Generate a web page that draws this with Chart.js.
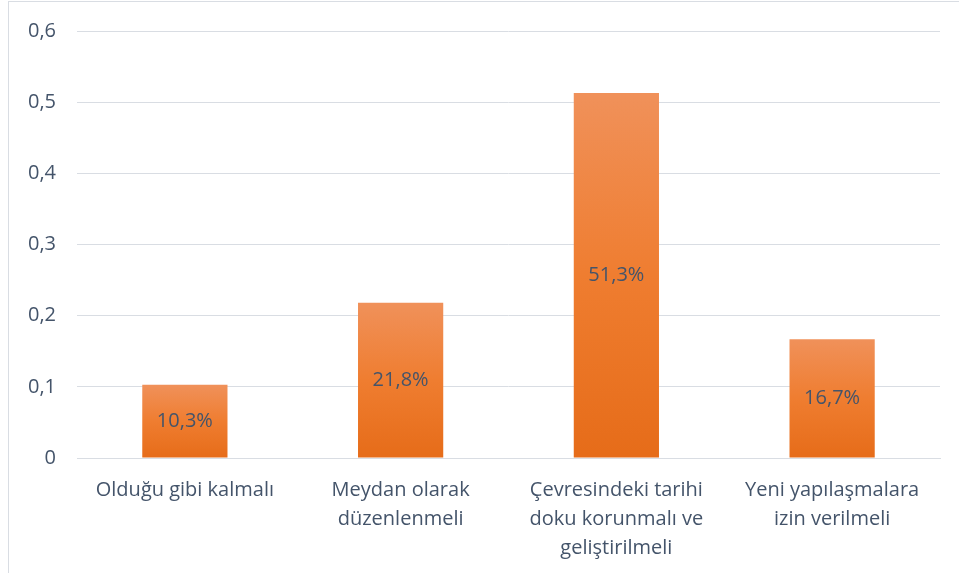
<!DOCTYPE html>
<html>
<head>
<meta charset="utf-8">
<script src="https://cdn.jsdelivr.net/npm/chart.js@4/dist/chart.umd.min.js"></script>
<style>
  body { margin: 0; background: #fff; }
  .chart { position: absolute; left: 8px; top: 1px; width: 960px; height: 580px;
           border-left: 1px solid #d9dde3; border-top: 1px solid #d9dde3; }
</style>
</head>
<body>
<div class="chart"><canvas id="c" width="960" height="571"></canvas></div>
<script>
const categories = [
  'Olduğu gibi kalmalı',
  ['Meydan olarak', 'düzenlenmeli'],
  ['Çevresindeki tarihi', 'doku korunmalı ve', 'geliştirilmeli'],
  ['Yeni yapılaşmalara', 'izin verilmeli']
]
const values = [0.103, 0.218, 0.513, 0.167]
const valueLabels = ['10,3%', '21,8%', '51,3%', '16,7%']
const yTicks = [0, 0.1, 0.2, 0.3, 0.4, 0.5, 0.6]

const textColor = '#44546a'
const gridColor = '#d9dde3'
const font = 'Open Sans'

// draw the value text in the middle of each bar
const barLabels = {
  id: 'barLabels',
  afterDatasetsDraw(chart) {
    const ctx = chart.ctx
    const meta = chart.getDatasetMeta(0)
    ctx.save()
    ctx.fillStyle = textColor
    ctx.font = '20px "' + font + '"'
    ctx.textAlign = 'center'
    ctx.textBaseline = 'middle'
    meta.data.forEach((bar, i) => {
      ctx.fillText(valueLabels[i], bar.x, (bar.y + bar.base) / 2)
    })
    ctx.restore()
  }
}

function barGradient(context) {
  const chart = context.chart
  const y = chart.scales.y
  if (!y || context.dataIndex === undefined) return '#ed7d31'
  const top = y.getPixelForValue(values[context.dataIndex])
  const bottom = y.getPixelForValue(0)
  if (!isFinite(top) || !isFinite(bottom)) return '#ed7d31'
  const g = chart.ctx.createLinearGradient(0, top, 0, bottom)
  g.addColorStop(0, '#f0915a')
  g.addColorStop(0.5, '#ef7d30')
  g.addColorStop(1, '#e66c19')
  return g
}

new Chart(document.getElementById('c'), {
  type: 'bar',
  data: {
    labels: categories,
    datasets: [{
      data: values,
      backgroundColor: barGradient,
      categoryPercentage: 1,
      barPercentage: 0.395
    }]
  },
  options: {
    responsive: false,
    animation: false,
    layout: { padding: { top: 29, right: 29, left: 0, bottom: 0 } },
    plugins: { legend: { display: false }, tooltip: { enabled: false } },
    scales: {
      x: {
        grid: { display: false, drawTicks: false },
        border: { color: gridColor, width: 1 },
        ticks: { color: textColor, font: { family: font, size: 20, lineHeight: 1.45 }, padding: 18, maxRotation: 0 },
        afterFit: s => { s.height = 115 }
      },
      y: {
        min: 0, max: 0.6,
        afterBuildTicks: s => { s.ticks = yTicks.map(v => ({ value: v })) },
        grid: { color: gridColor, drawTicks: false, lineWidth: 1 },
        border: { display: false },
        ticks: {
          color: textColor, font: { family: font, size: 20 }, padding: 21,
          callback: v => String(v).replace('.', ',')
        },
        afterFit: s => { s.width = 68; s.paddingTop = 0; s.paddingBottom = 0 }
      }
    }
  },
  plugins: [barLabels]
})
</script>
</body>
</html>
